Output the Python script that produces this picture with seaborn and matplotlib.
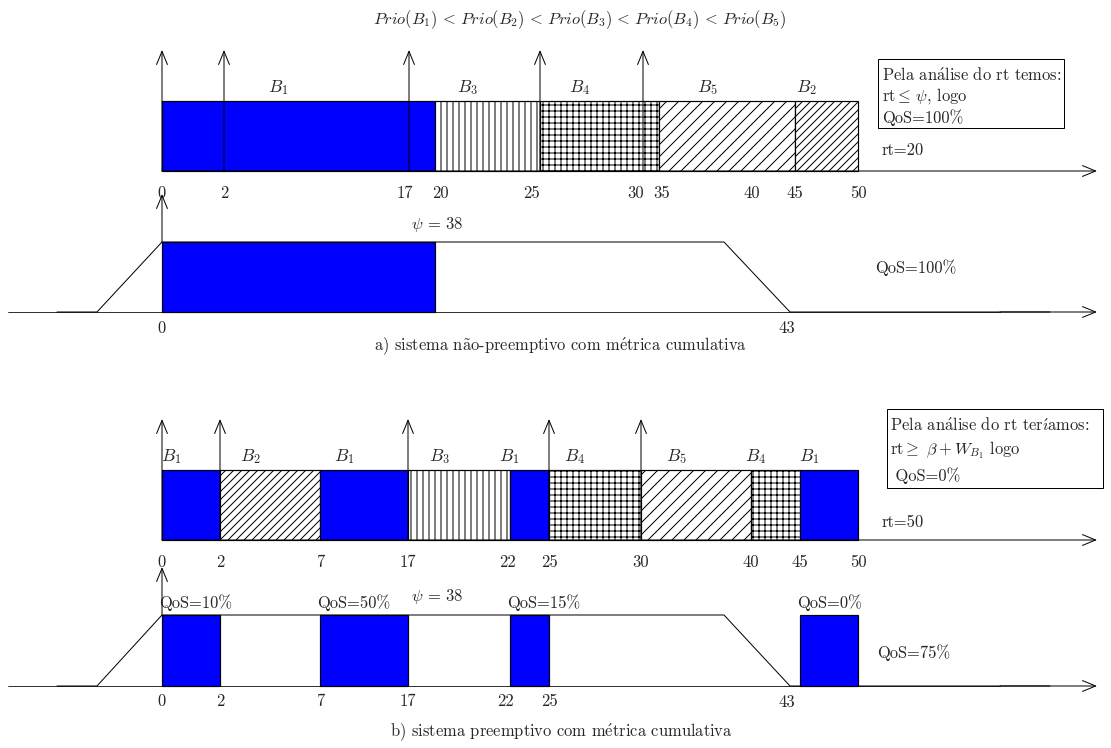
import numpy as np
import seaborn as sns
import matplotlib.pyplot as plt
from matplotlib.patches import Rectangle

# time marks of each timeline and where the sketch draws them (it is not to scale)
ticks_a = [0, 2, 17, 20, 25, 30, 35, 40, 45, 50]
xpos_a = [162, 224, 409, 435, 540, 643, 659, 752, 795, 858]
ticks_b = [0, 2, 7, 17, 22, 25, 30, 40, 45, 50]
xpos_b = [162, 220, 320, 408, 510, 549, 641, 751, 800, 858]

# a) non-preemptive schedule
tasks_a = ["B1", "B3", "B4", "B5", "B2"]
start_a = [0, 20, 25, 35, 45]
end_a = [20, 25, 35, 45, 50]
arrive_a = [0, 2, 17, 25, 30]

# b) preemptive schedule
tasks_b = ["B1", "B2", "B1", "B3", "B1", "B4", "B5", "B4", "B1"]
start_b = [0, 2, 7, 17, 22, 25, 30, 40, 45]
end_b = [2, 7, 17, 22, 25, 30, 40, 45, 50]
arrive_b = [0, 2, 17, 25, 30]

# utility of B1: full until psi = 38, zero from 43
util_t = [-3.3, -2.1, 0, 38, 43, 62]
util_x = [57, 97, 162, 724, 790, 1050]
util_level = [0, 0, 1, 1, 0, 0]
psi = 38
deadline = 43

low_ticks_a = [0]
low_ticks_b = [0, 2, 7, 17, 22, 25]
qos_blocks_b = ["QoS=10%", "QoS=50%", "QoS=15%", "QoS=0%"]

# accented letters set in Computer Modern through mathtext
A_ACUTE = r"$\mathrm{\acute{a}}$"
A_TILDE = r"$\mathrm{\tilde{a}}$"
E_ACUTE = r"$\mathrm{\acute{e}}$"
I_ACUTE = r"$\mathrm{\acute{\imath}}$"

box_a_lines = ["Pela an" + A_ACUTE + "lise do rt temos:", r"rt$\leq\,\psi$, logo", "QoS=100%"]
box_b_lines = ["Pela an" + A_ACUTE + "lise do rt ter" + I_ACUTE + "amos:",
               r"rt$\geq\ \beta + W_{B_1}$ logo", " QoS=0%"]
caption_a = "a) sistema n" + A_TILDE + "o-preemptivo com m" + E_ACUTE + "trica cumulativa"
caption_b = "b) sistema preemptivo com m" + E_ACUTE + "trica cumulativa"

# look of each task
fill = {"B1": "#0000ff", "B2": "white", "B3": "white", "B4": "white", "B5": "white"}
hatch = {"B1": None, "B2": "///", "B3": "||", "B4": "++", "B5": "//"}

sns.set_theme(style="white")
plt.rcParams["font.family"] = ["cmr10", "DejaVu Serif"]
plt.rcParams["mathtext.fontset"] = "cm"
plt.rcParams["axes.formatter.use_mathtext"] = True
plt.rcParams["hatch.linewidth"] = 1.0
plt.rcParams["hatch.color"] = "black"

fig = plt.figure(figsize=(1111 / 72, 748 / 72), dpi=72)
ax = fig.add_axes([0, 0, 1, 1])
ax.set_xlim(0, 1111)
ax.set_ylim(748, 0)
ax.axis("off")

FS = 16.5
H = 70
ARROW = "->,head_length=1.1,head_width=0.45"


def arrow(x0, y0, x1, y1):
    ax.annotate("", xy=(x1, y1), xytext=(x0, y0),
                arrowprops=dict(arrowstyle=ARROW, lw=1.0, color="black",
                                shrinkA=0, shrinkB=0))


def timeline(tasks, start, end, arrive, ticks, xpos, axis_y, nudge):
    scale = lambda t: np.interp(t, ticks, xpos)
    arrow(scale(0), axis_y, 1097, axis_y)
    for task, s, e in zip(tasks, start, end):
        x0, x1 = scale(s), scale(e)
        ax.add_patch(Rectangle((x0, axis_y - H), x1 - x0, H, facecolor=fill[task],
                               hatch=hatch[task], edgecolor="black", lw=1.2))
        ax.text((x0 + x1) / 2 - 20, axis_y - H - 13, "$B_%s$" % task[1:],
                fontsize=FS + 1, ha="center", va="center")
    for t in arrive:
        arrow(scale(t), axis_y, scale(t), axis_y - 121)
    for t in ticks:
        ax.text(scale(t) + nudge.get(t, 0), axis_y + 22, str(t), fontsize=FS,
                ha="center", va="center")
    return scale


def utility(base_y, top_y):
    ys = [base_y - (base_y - top_y) * v for v in util_level]
    ax.plot([8, 1000], [base_y, base_y], color="black", lw=0.8)
    arrow(1000, base_y, 1097, base_y)
    sns.lineplot(x=util_x, y=ys, ax=ax, color="black", lw=1.0, sort=False,
                 estimator=None, legend=False)
    x0 = np.interp(0, util_t, util_x)
    arrow(x0, top_y, x0, top_y - 48)
    ax.text(437, top_y - 18, r"$\psi\,=\,%d$" % psi,
            fontsize=FS, ha="center", va="center")
    ax.text(np.interp(deadline, util_t, util_x) - 3, base_y + 16, str(deadline),
            fontsize=FS, ha="center", va="center")


# title
ax.text(580, 20, r"$Prio(B_1)\,<\,Prio(B_2)\,<\,Prio(B_3)\,<\,Prio(B_4)\,<\,Prio(B_5)$",
        fontsize=FS, ha="center", va="center")

# ---- a) ----
sa = timeline(tasks_a, start_a, end_a, arrive_a, ticks_a, xpos_a, 171,
              {17: -4, 20: 5, 25: -8, 30: -7, 35: 3})
ax.add_patch(Rectangle((878, 59), 186, 69, facecolor="white", edgecolor="black", lw=1.0))
for i, line in enumerate(box_a_lines):
    ax.text(882, 75 + 21.5 * i, line, fontsize=FS, ha="left", va="center")
ax.text(882, 150, "rt=20", fontsize=FS, ha="left", va="center")

utility(312, 242)
for task, s, e in zip(tasks_a, start_a, end_a):
    if task == "B1":
        x0, x1 = sa(s), sa(e)
        ax.add_patch(Rectangle((x0, 242), x1 - x0, 70, facecolor="#0000ff",
                               edgecolor="black", lw=1.2, zorder=3))
for t in low_ticks_a:
    ax.text(sa(t), 328, str(t), fontsize=FS, ha="center", va="center")
ax.text(875, 268, "QoS=100%", fontsize=FS, ha="left", va="center")
ax.text(561, 347, caption_a, fontsize=FS, ha="center", va="center")

# ---- b) ----
sb = timeline(tasks_b, start_b, end_b, arrive_b, ticks_b, xpos_b, 540, {22: -3})
ax.add_patch(Rectangle((887, 409), 216, 79, facecolor="white", edgecolor="black", lw=1.0))
for i, line in enumerate(box_b_lines):
    ax.text(890, 425 + 25.5 * i, line, fontsize=FS, ha="left", va="center")
ax.text(882, 522, "rt=50", fontsize=FS, ha="left", va="center")

utility(686, 615)
b1_blocks = [(s, e) for task, s, e in zip(tasks_b, start_b, end_b) if task == "B1"]
for lab, (s, e) in zip(qos_blocks_b, b1_blocks):
    x0, x1 = sb(s), sb(e)
    ax.add_patch(Rectangle((x0, 615), x1 - x0, 71, facecolor="#0000ff",
                           edgecolor="black", lw=1.2, zorder=3))
    ax.text(x0 - 3, 603, lab, fontsize=FS, ha="left", va="center")
for t in low_ticks_b:
    ax.text(sb(t) + (-4 if t == 22 else 0), 701, str(t), fontsize=FS,
            ha="center", va="center")
ax.text(877, 653, "QoS=75%", fontsize=FS, ha="left", va="center")
ax.text(561, 733, caption_b, fontsize=FS, ha="center", va="center")

fig.savefig("out.png", dpi=72)
